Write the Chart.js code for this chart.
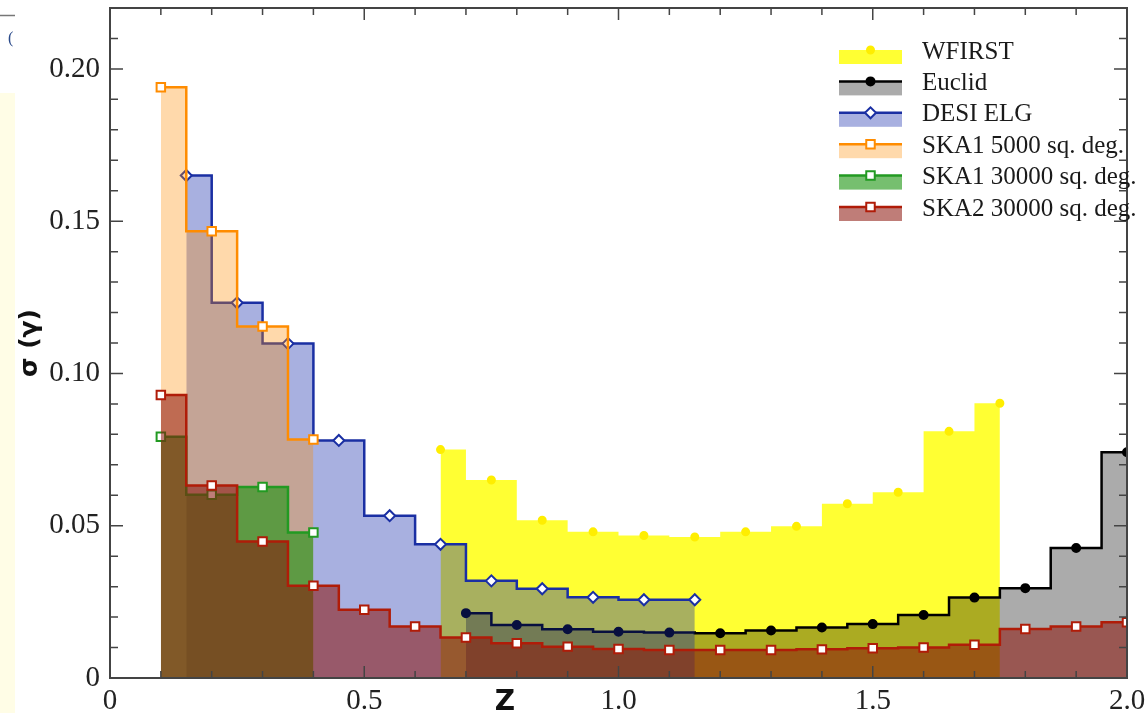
<!DOCTYPE html>
<html>
<head>
<meta charset="utf-8">
<script src="https://cdn.jsdelivr.net/npm/chart.js@4.4.0/dist/chart.umd.min.js"></script>
<style>
  html, body { margin: 0; padding: 0; background: #fff; }
  #wrap { width: 1147px; height: 713px; position: relative; }
</style>
</head>
<body>
<div id="wrap"><canvas id="chart" width="1147" height="713"></canvas></div>
<script>
// bin centres (z) and sigma(gamma)
var zWfirst = [0.65, 0.75, 0.85, 0.95, 1.05, 1.15, 1.25, 1.35, 1.45, 1.55, 1.65, 1.75];
var sWfirst = [0.075, 0.065, 0.0518, 0.048, 0.0468, 0.0463, 0.048, 0.0498, 0.0572, 0.061, 0.081, 0.0902];

var zEuclid = [0.7, 0.8, 0.9, 1.0, 1.1, 1.2, 1.3, 1.4, 1.5, 1.6, 1.7, 1.8, 1.9, 2.0];
var sEuclid = [0.0213, 0.0174, 0.016, 0.0152, 0.0149, 0.0147, 0.0156, 0.0166, 0.0177, 0.0207, 0.0264, 0.0295, 0.0427, 0.0741];

var zDesi = [0.15, 0.25, 0.35, 0.45, 0.55, 0.65, 0.75, 0.85, 0.95, 1.05, 1.15];
var sDesi = [0.165, 0.1232, 0.1098, 0.078, 0.0533, 0.0439, 0.0319, 0.0293, 0.0265, 0.0257, 0.0257];

var zSka1a = [0.1, 0.2, 0.3, 0.4];
var sSka1a = [0.194, 0.1467, 0.1154, 0.0783];

var zSka1b = [0.1, 0.2, 0.3, 0.4];
var sSka1b = [0.0792, 0.0602, 0.0627, 0.0478];

var zSka2 = [0.1, 0.2, 0.3, 0.4, 0.5, 0.6, 0.7, 0.8, 0.9, 1.0, 1.1, 1.2, 1.3, 1.4, 1.5, 1.6, 1.7, 1.8, 1.9, 2.0];
var sSka2 = [0.0929, 0.0632, 0.0448, 0.0303, 0.0224, 0.0169, 0.0133, 0.0114, 0.0103, 0.0095, 0.0092, 0.0092, 0.0092, 0.0094, 0.0098, 0.01, 0.0109, 0.0161, 0.0169, 0.0183];

var names = ["WFIRST", "Euclid", "DESI ELG", "SKA1 5000 sq. deg.", "SKA1 30000 sq. deg.", "SKA2 30000 sq. deg."];

var yMajor = [0, 0.05, 0.1, 0.15, 0.2];
var yLabels = ["0", "0.05", "0.10", "0.15", "0.20"];
var xMajor = [0, 0.5, 1.0, 1.5, 2.0];
var xLabels = ["0", "0.5", "1.0", "1.5", "2.0"];

function pts(xs, ys) {
  return xs.map(function (x, i) { return { x: x, y: ys[i] }; });
}

var styles = [
  { line: "rgba(255,245,0,1)", fill: "rgba(255,255,0,0.8)", shape: "circle", r: 3.5, pFill: "#ffee00", pBorder: "#ffee00" },
  { line: "#000000", fill: "rgba(0,0,0,0.33)", shape: "circle", r: 4, pFill: "#000", pBorder: "#000" },
  { line: "#1a2fa3", fill: "rgba(20,40,170,0.37)", shape: "rectRot", r: 5.5, pFill: "#fff", pBorder: "#1a2fa3" },
  { line: "#ff8c00", fill: "rgba(255,140,0,0.33)", shape: "rect", r: 6, pFill: "#fff", pBorder: "#ff8c00" },
  { line: "#229a22", fill: "rgba(27,148,15,0.6)", shape: "rect", r: 6, pFill: "#fff", pBorder: "#229a22" },
  { line: "#b01c08", fill: "rgba(139,19,9,0.55)", shape: "rect", r: 6, pFill: "#fff", pBorder: "#b01c08" }
];

var series = [
  pts(zWfirst, sWfirst), pts(zEuclid, sEuclid), pts(zDesi, sDesi),
  pts(zSka1a, sSka1a), pts(zSka1b, sSka1b), pts(zSka2, sSka2)
];

var datasets = series.map(function (d, i) {
  var s = styles[i];
  return {
    label: names[i],
    data: d,
    order: 5 - i,
    stepped: "middle",
    fill: "origin",
    borderColor: s.line,
    backgroundColor: s.fill,
    borderWidth: i === 0 ? 0 : 2.5,
    pointStyle: s.shape,
    pointRadius: s.r,
    pointBackgroundColor: s.pFill,
    pointBorderColor: s.pBorder,
    pointBorderWidth: 2
  };
});

// frame, inward ticks, axis titles, legend and the cropped strip at the left
var decor = {
  id: "decor",
  afterDraw: function (chart) {
    var ctx = chart.ctx, a = chart.chartArea;
    var xs = chart.scales.x, ys = chart.scales.y;
    ctx.save();
    // cropped neighbour panel
    ctx.fillStyle = "#fffde6";
    ctx.fillRect(0, 93, 15, 713 - 93);
    ctx.strokeStyle = "#777";
    ctx.lineWidth = 1.5;
    ctx.beginPath(); ctx.moveTo(0, 15.5); ctx.lineTo(15, 15.5); ctx.stroke();
    ctx.fillStyle = "#2a4a8a";
    ctx.font = "16px 'Liberation Serif'";
    ctx.textBaseline = "middle";
    ctx.fillText("(", 8, 39);

    ctx.strokeStyle = "#444";
    ctx.lineWidth = 2;
    ctx.strokeRect(a.left, a.top, a.right - a.left, a.bottom - a.top);
    ctx.lineWidth = 1.5;
    var i, v, p, len;
    for (i = 0; i <= 20; i++) {
      v = i / 10;
      p = xs.getPixelForValue(v);
      len = i % 5 === 0 ? 12 : 7;
      ctx.beginPath();
      ctx.moveTo(p, a.bottom); ctx.lineTo(p, a.bottom - len);
      ctx.moveTo(p, a.top); ctx.lineTo(p, a.top + len);
      ctx.stroke();
    }
    for (i = 0; i <= 22; i++) {
      v = i / 100;
      p = ys.getPixelForValue(v);
      len = i % 5 === 0 ? 13 : 8;
      ctx.beginPath();
      ctx.moveTo(a.left, p); ctx.lineTo(a.left + len, p);
      ctx.moveTo(a.right, p); ctx.lineTo(a.right - len, p);
      ctx.stroke();
    }

    // axis titles
    ctx.fillStyle = "#111";
    ctx.font = "bold 28px 'DejaVu Sans'";
    ctx.textAlign = "center";
    ctx.textBaseline = "alphabetic";
    ctx.fillText("Z", 505, 710);
    ctx.save();
    ctx.translate(30, 343);
    ctx.rotate(-Math.PI / 2);
    ctx.font = "bold 25px 'DejaVu Sans'";
    ctx.textBaseline = "middle";
    ctx.fillText("\u03c3 (\u03b3)", 0, 0);
    ctx.restore();

    // legend
    var lx = 839, lw = 63, ly0 = 50, dy = 31.4;
    for (i = 0; i < names.length; i++) {
      var s = styles[i];
      var y = ly0 + i * dy;
      ctx.fillStyle = s.fill;
      ctx.fillRect(lx, y, lw, 14);
      if (i > 0) {
        ctx.strokeStyle = s.line;
        ctx.lineWidth = 2.5;
        ctx.beginPath(); ctx.moveTo(lx, y); ctx.lineTo(lx + lw, y); ctx.stroke();
      }
      ctx.lineWidth = 2;
      ctx.fillStyle = s.pFill;
      ctx.strokeStyle = s.pBorder;
      Chart.helpers.drawPoint(ctx, { pointStyle: s.shape, radius: s.r, borderWidth: 2 }, lx + lw / 2, y);
      ctx.fillStyle = "#1a1a1a";
      ctx.font = "25px 'Liberation Serif'";
      ctx.textAlign = "left";
      ctx.textBaseline = "alphabetic";
      ctx.fillText(names[i], 922, y + 8.5);
    }
    ctx.restore();
  }
};

new Chart(document.getElementById("chart"), {
  type: "line",
  data: { datasets: datasets },
  options: {
    responsive: false,
    animation: false,
    layout: { padding: { left: 0, right: 20, top: 8, bottom: 0 } },
    plugins: {
      legend: { display: false },
      tooltip: { enabled: false }
    },
    scales: {
      x: {
        type: "linear",
        min: 0,
        max: 2,
        afterBuildTicks: function (s) { s.ticks = xMajor.map(function (v) { return { value: v }; }); },
        afterFit: function (s) { s.height = 35; s.paddingLeft = 0; s.paddingRight = 0; },
        grid: { display: false, drawTicks: false },
        border: { display: false },
        ticks: {
          padding: 6,
          color: "#222",
          font: { family: "Liberation Serif", size: 29 },
          maxRotation: 0,
          autoSkip: false,
          callback: function (v) { return xLabels[xMajor.indexOf(v)]; }
        }
      },
      y: {
        type: "linear",
        min: 0,
        max: 0.22,
        afterBuildTicks: function (s) { s.ticks = yMajor.map(function (v) { return { value: v }; }); },
        afterFit: function (s) { s.width = 110; s.paddingTop = 0; s.paddingBottom = 0; },
        grid: { display: false, drawTicks: false },
        border: { display: false },
        ticks: {
          padding: 10,
          color: "#222",
          font: { family: "Liberation Serif", size: 29 },
          autoSkip: false,
          callback: function (v) { return yLabels[yMajor.indexOf(v)]; }
        }
      }
    }
  },
  plugins: [decor]
});
</script>
</body>
</html>
